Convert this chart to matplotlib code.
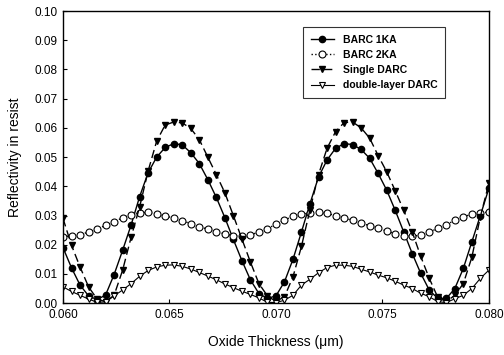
import numpy as np
import matplotlib
matplotlib.use("Agg")
import matplotlib.pyplot as plt

# oxide thickness grid (um), 0.0004 step
thickness = np.linspace(0.060, 0.080, 51)

barc_1ka = [0.0190, 0.0121, 0.0062, 0.0025, 0.0012, 0.0028, 0.0098, 0.0181, 0.0268, 0.0365,
            0.0447, 0.0500, 0.0533, 0.0546, 0.0542, 0.0515, 0.0478, 0.0423, 0.0362, 0.0293,
            0.0218, 0.0146, 0.0080, 0.0033, 0.0016, 0.0025, 0.0073, 0.0150, 0.0244, 0.0341,
            0.0432, 0.0490, 0.0530, 0.0546, 0.0543, 0.0526, 0.0496, 0.0444, 0.0387, 0.0318,
            0.0244, 0.0170, 0.0102, 0.0045, 0.0016, 0.0016, 0.0050, 0.0119, 0.0210, 0.0300,
            0.0393]

barc_2ka = [0.0228, 0.0230, 0.0235, 0.0243, 0.0254, 0.0266, 0.0279, 0.0292, 0.0303, 0.0309,
            0.0311, 0.0306, 0.0299, 0.0291, 0.0282, 0.0272, 0.0262, 0.0253, 0.0245, 0.0237,
            0.0231, 0.0229, 0.0234, 0.0243, 0.0255, 0.0270, 0.0285, 0.0297, 0.0304, 0.0309,
            0.0312, 0.0307, 0.0300, 0.0292, 0.0283, 0.0274, 0.0265, 0.0256, 0.0247, 0.0238,
            0.0231, 0.0229, 0.0233, 0.0243, 0.0256, 0.0269, 0.0283, 0.0296, 0.0304, 0.0309,
            0.0312]

single_darc = [0.0290, 0.0198, 0.0124, 0.0056, 0.0014, 0.0005, 0.0027, 0.0113, 0.0226, 0.0330,
               0.0453, 0.0555, 0.0610, 0.0620, 0.0617, 0.0598, 0.0560, 0.0500, 0.0440, 0.0378,
               0.0300, 0.0220, 0.0141, 0.0067, 0.0025, 0.0006, 0.0022, 0.0090, 0.0195, 0.0320,
               0.0440, 0.0530, 0.0587, 0.0618, 0.0620, 0.0600, 0.0565, 0.0505, 0.0450, 0.0385,
               0.0318, 0.0244, 0.0160, 0.0085, 0.0020, 0.0005, 0.0027, 0.0067, 0.0157, 0.0296,
               0.0410]

double_darc = [0.0056, 0.0040, 0.0027, 0.0014, 0.0003, 0.0004, 0.0025, 0.0045, 0.0067, 0.0092,
               0.0112, 0.0124, 0.0130, 0.0131, 0.0126, 0.0117, 0.0105, 0.0093, 0.0080, 0.0066,
               0.0053, 0.0041, 0.0030, 0.0018, 0.0003, 0.0002, 0.0010, 0.0027, 0.0062, 0.0082,
               0.0104, 0.0122, 0.0130, 0.0130, 0.0126, 0.0116, 0.0107, 0.0096, 0.0087, 0.0075,
               0.0062, 0.0050, 0.0034, 0.0022, 0.0005, 0.0002, 0.0015, 0.0027, 0.0050, 0.0085,
               0.0113]

x_ticks = [0.060, 0.065, 0.070, 0.075, 0.080]
y_ticks = [0.00, 0.01, 0.02, 0.03, 0.04, 0.05, 0.06, 0.07, 0.08, 0.09, 0.10]


def main():
    plt.rcParams['font.family'] = ['Liberation Sans', 'DejaVu Sans']
    fig = plt.figure(figsize=(5.04, 3.55), dpi=100)
    ax = fig.add_axes([0.125, 0.146, 0.845, 0.823])

    ax.plot(thickness, barc_1ka, '-', color='black', lw=1.0, marker='o', ms=4.5,
            mfc='black', mec='black', label='BARC 1KA')
    ax.plot(thickness, barc_2ka, ':', color='black', lw=1.0, marker='o', ms=5,
            mfc='white', mec='black', mew=0.8, label='BARC 2KA')
    ax.plot(thickness, single_darc, '--', color='black', lw=1.0, dashes=(6, 3), marker='v', ms=5,
            mfc='black', mec='black', label='Single DARC')
    ax.plot(thickness, double_darc, '-', color='black', lw=0.8, marker='v', ms=5,
            mfc='white', mec='black', mew=0.8, label='double-layer DARC')

    ax.set_xlim(0.060, 0.080)
    ax.set_ylim(0.0, 0.10)
    ax.set_xticks(x_ticks)
    ax.set_xticklabels(['%.3f' % t for t in x_ticks])
    ax.set_yticks(y_ticks)
    ax.set_yticklabels(['%.2f' % t for t in y_ticks])
    ax.tick_params(direction='in', length=3, labelsize=8.5, width=0.8, pad=4)
    for s in ax.spines.values():
        s.set_linewidth(1.0)

    ax.set_xlabel('Oxide Thickness (\u03bcm)', fontsize=10, labelpad=10)
    ax.set_ylabel('Reflectivity in resist', fontsize=10, labelpad=9)

    leg = ax.legend(loc='upper left', bbox_to_anchor=(0.552, 0.962),
                    prop={'size': 7.5, 'weight': 'bold'},
                    frameon=True, fancybox=False, edgecolor='black', handlelength=2.2,
                    borderpad=0.7, labelspacing=0.5, handletextpad=0.9)
    leg.get_frame().set_linewidth(0.8)

    fig.savefig('out.png', dpi=100)


if __name__ == "__main__":
    main()
